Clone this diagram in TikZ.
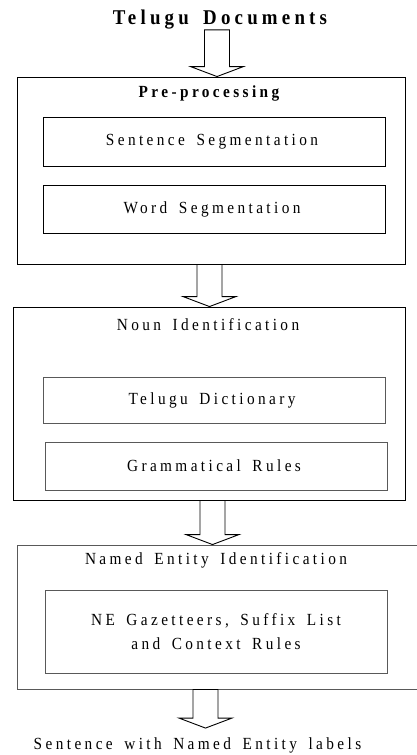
\documentclass[tikz,border=0pt]{standalone}
\usepackage{fontspec}
\setmainfont{Liberation Serif}[FakeStretch=0.9,LetterSpace=20,WordSpace=1.6]
\usetikzlibrary{calc}

% block arrow between two boxes: #1 = x of the shaft, #2 = top, #3 = tip
\newcommand{\flowarrow}[3]{%
  \draw[flowline] let \p1 = #2, \p2 = #3 in
    (#1-12.5,\y1) -- (#1+12.5,\y1) -- (#1+12.5,\y2+10pt) -- (#1+26.5,\y2+10pt)
    -- (#1,\y2) -- (#1-26.5,\y2+10pt) -- (#1-12.5,\y2+10pt) -- cycle;}

\begin{document}
\begin{tikzpicture}[x=1pt,y=-1pt,
    outerbox/.style ={draw, line width=0.9pt, inner sep=0pt},
    innerbox/.style ={draw, line width=0.9pt, inner sep=0pt, minimum width=342pt},
    softbox/.style ={draw=black!65, line width=0.9pt, inner sep=0pt},
    flowline/.style ={line width=0.9pt},
    label/.style ={font=\fontsize{17}{24}\selectfont, align=center, inner sep=0pt}]
   \useasboundingbox (0,0) rectangle (417,755);

   \node[label, font=\fontsize{21}{24}\selectfont\bfseries] (docs) at (220,20) {Telugu Documents};

   % pre-processing
   \node[outerbox, minimum width=388pt, minimum height=187pt] (pre) at (211,170.5) {};
   \node[label, font=\fontsize{17}{24}\selectfont\bfseries] (pretitle) at (209,93) {Pre-processing};
   \node[innerbox, minimum height=49pt] (sent) at (214,141.5) {};
   \node[label] (senttext) at (212,141.5) {Sentence Segmentation};
   \node[innerbox, minimum height=48pt] (word) at (214,209) {};
   \node[label] (wordtext) at (212,209) {Word Segmentation};

   % noun identification
   \node[outerbox, minimum width=392pt, minimum height=193pt] (noun) at (209,403.5) {};
   \node[label] (nountitle) at (208,325) {Noun Identification};
   \node[softbox, minimum width=342pt, minimum height=46pt] (dict) at (214,400) {};
   \node[label] (dicttext) at (212,400) {Telugu Dictionary};
   \node[softbox, minimum width=342pt, minimum height=48pt] (gram) at (216,466) {};
   \node[label] (gramtext) at (214,466) {Grammatical Rules};

   % named entity identification
   \node[softbox, minimum width=410pt, minimum height=144pt] (ne) at (222,617) {};
   \node[label] (netitle) at (216,560) {Named Entity Identification};
   \node[softbox, minimum width=342pt, minimum height=83pt] (gaz) at (216,631.5) {};
   \node[label] (gaztext) at (216,632) {NE Gazetteers, Suffix List\\and Context Rules};

   \node[label] (out) at (197.5,745) {Sentence with Named Entity labels};

   \flowarrow{217}{(docs.south)}{(pre.north)}
   \flowarrow{209.5}{(pre.south)}{(noun.north)}
   \flowarrow{212.5}{(noun.south)}{(ne.north)}
   \flowarrow{205.5}{(ne.south)}{([yshift=9pt]out.north)}
\end{tikzpicture}
\end{document}
